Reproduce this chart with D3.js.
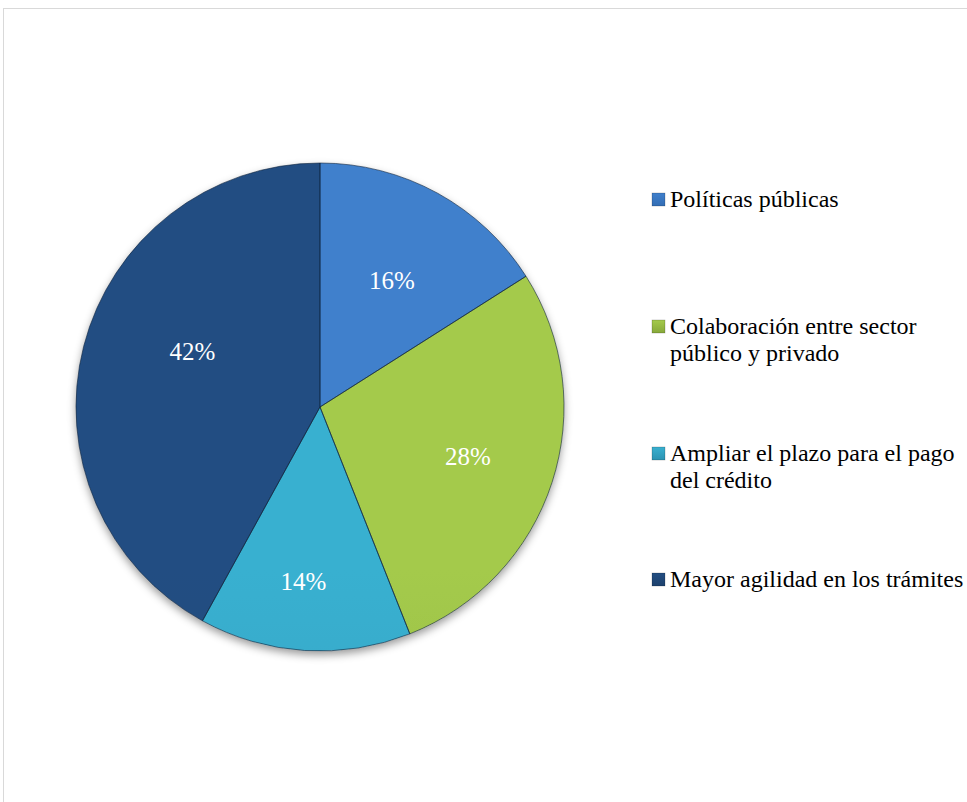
<!DOCTYPE html>
<html>
<head>
<meta charset="utf-8">
<script src="https://cdn.jsdelivr.net/npm/d3@7"></script>
<style>
  html, body { margin: 0; padding: 0; background: #fff; }
  svg { display: block; }
  text { font-family: "Liberation Serif", serif; }
</style>
</head>
<body>
<svg id="chart" width="967" height="802"></svg>
<script>
// Survey answers and their shares (percent)
const categories = [
  "Políticas públicas",
  "Colaboración entre sector público y privado",
  "Ampliar el plazo para el pago del crédito",
  "Mayor agilidad en los trámites"
];
const values = [16, 28, 14, 42];
const legendLines = [
  ["Políticas públicas"],
  ["Colaboración entre sector", "público y privado"],
  ["Ampliar el plazo para el pago", "del crédito"],
  ["Mayor agilidad en los trámites"]
];
const baseColors = ["#3a7ac6", "#98be45", "#33a6c6", "#214a7b"];
const lightColors = ["#3f80cc", "#a4ca4c", "#39b0d0", "#234e82"];
const darkColors = ["#336db4", "#87a83a", "#2c93b2", "#1d416d"];

const svg = d3.select("#chart");
const defs = svg.append("defs");

// outer frame of the chart area
svg.append("rect")
  .attr("x", 3.5).attr("y", 8.5)
  .attr("width", 1000).attr("height", 1000)
  .attr("fill", "none").attr("stroke", "#d9d9d9").attr("stroke-width", 1);

const cx = 320, cy = 407, R = 244;

// drop shadow under the pie
const shadow = defs.append("filter").attr("id", "shadow")
  .attr("x", "-20%").attr("y", "-20%").attr("width", "140%").attr("height", "140%");
shadow.append("feDropShadow").attr("dx", 0).attr("dy", 4)
  .attr("stdDeviation", 4).attr("flood-color", "#000").attr("flood-opacity", 0.4);

// per-slice vertical shading
baseColors.forEach((c, i) => {
  const g = defs.append("linearGradient").attr("id", "fill" + i)
    .attr("gradientUnits", "userSpaceOnUse")
    .attr("x1", 0).attr("y1", cy - R).attr("x2", 0).attr("y2", cy + R);
  g.append("stop").attr("offset", "0%").attr("stop-color", lightColors[i]);
  g.append("stop").attr("offset", "50%").attr("stop-color", baseColors[i]);
  g.append("stop").attr("offset", "100%").attr("stop-color", darkColors[i]);
});

// bevel rim: light on top, dark at bottom
const rim = defs.append("linearGradient").attr("id", "rim")
  .attr("gradientUnits", "userSpaceOnUse")
  .attr("x1", 0).attr("y1", cy - R).attr("x2", 0).attr("y2", cy + R);
rim.append("stop").attr("offset", "0%").attr("stop-color", "#fff").attr("stop-opacity", 0.3);
rim.append("stop").attr("offset", "45%").attr("stop-color", "#fff").attr("stop-opacity", 0.1);
rim.append("stop").attr("offset", "60%").attr("stop-color", "#000").attr("stop-opacity", 0.06);
rim.append("stop").attr("offset", "100%").attr("stop-color", "#000").attr("stop-opacity", 0.24);

const pie = d3.pie().sort(null).value(d => d);
const arcs = pie(values);
const arc = d3.arc().innerRadius(0).outerRadius(R);
const labelArc = d3.arc().innerRadius(R * 0.62).outerRadius(R * 0.62);
// small offsets that place each percentage where it reads best inside its slice
const labelNudge = [[-1, 6], [4, 3], [-7, 24], [19, -18]];

const gPie = svg.append("g").attr("transform", `translate(${cx},${cy})`);

arcs.forEach((a, i) => {
  defs.append("clipPath").attr("id", "clip" + i)
    .append("path").attr("d", arc(a)).attr("transform", `translate(${cx},${cy})`);
});

const slices = gPie.append("g").attr("filter", "url(#shadow)");
slices.selectAll("path.slice").data(arcs).join("path")
  .attr("class", "slice")
  .attr("d", arc)
  .attr("fill", (d, i) => `url(#fill${i})`);

// bevel rim drawn inside each slice
const rims = svg.append("g");
arcs.forEach((a, i) => {
  rims.append("path")
    .attr("d", arc(a))
    .attr("transform", `translate(${cx},${cy})`)
    .attr("clip-path", `url(#clip${i})`)
    .attr("fill", "none")
    .attr("stroke", "url(#rim)")
    .attr("stroke-width", 14)
    .attr("stroke-linejoin", "miter");
});

// thin dark separators and outline
gPie.append("g").selectAll("path").data(arcs).join("path")
  .attr("d", arc)
  .attr("fill", "none")
  .attr("stroke", "rgba(15,35,60,0.6)")
  .attr("stroke-width", 1);

// percentage labels
gPie.append("g").selectAll("text").data(arcs).join("text")
  .attr("transform", (d, i) => {
    const [x, y] = labelArc.centroid(d);
    return `translate(${x + labelNudge[i][0]},${y + labelNudge[i][1]})`;
  })
  .attr("text-anchor", "middle")
  .attr("dy", "0.34em")
  .style("font-family", "Liberation Serif")
  .style("font-size", "25px")
  .attr("fill", "#fff")
  .text(d => d.data + "%");

// legend
const legendBase = [207, 334, 461, 587];
const lineH = 27;
const legend = svg.append("g");
categories.forEach((c, i) => {
  const y = legendBase[i];
  const g = defs.append("linearGradient").attr("id", "lg" + i)
    .attr("x1", 0).attr("y1", 0).attr("x2", 0).attr("y2", 1);
  g.append("stop").attr("offset", "0%").attr("stop-color", lightColors[i]);
  g.append("stop").attr("offset", "100%").attr("stop-color", darkColors[i]);
  legend.append("rect")
    .attr("x", 652).attr("y", y - 14)
    .attr("width", 13).attr("height", 13)
    .attr("fill", `url(#lg${i})`)
    .attr("stroke", "rgba(0,0,0,0.3)").attr("stroke-width", 0.6);
  const t = legend.append("text")
    .attr("x", 670).attr("y", y)
    .style("font-family", "Liberation Serif")
    .style("font-size", "24px")
    .attr("fill", "#000");
  legendLines[i].forEach((line, j) => {
    t.append("tspan").attr("x", 670).attr("dy", j === 0 ? 0 : lineH).text(line);
  });
});
</script>
</body>
</html>
